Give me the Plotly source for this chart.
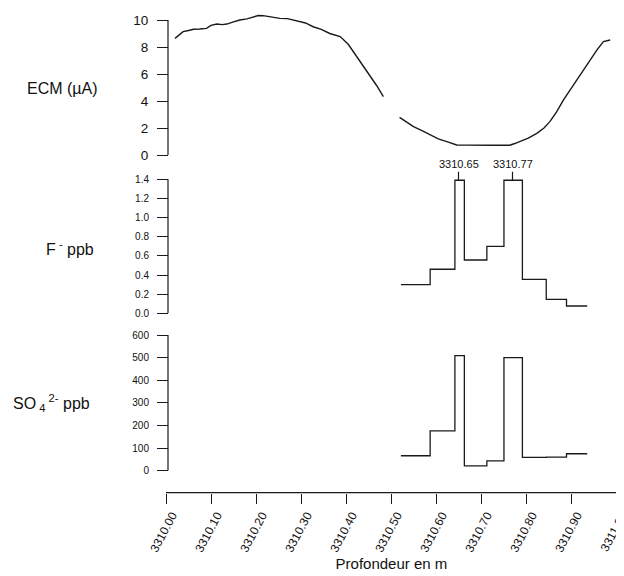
import plotly.graph_objects as go

# ECM profile (depth in m, current in microamps); None marks the gap in the record
ecm_depth = [3310.020, 3310.030, 3310.038, 3310.050, 3310.061, 3310.075, 3310.090,
             3310.100, 3310.113, 3310.125, 3310.135, 3310.150, 3310.164, 3310.180,
             3310.194, 3310.205, 3310.216, 3310.235, 3310.253, 3310.270, 3310.290,
             3310.310, 3310.327, 3310.345, 3310.364, 3310.387, 3310.405,
             3310.424, 3310.440, 3310.453, 3310.468, 3310.483, None,
             3310.519, 3310.535, 3310.550, 3310.570, 3310.587, 3310.605, 3310.624,
             3310.646, 3310.665, 3310.683, 3310.705, 3310.727, 3310.745,
             3310.764, 3310.775, 3310.787, 3310.805, 3310.824, 3310.840, 3310.853,
             3310.868, 3310.883, 3310.898, 3310.913, 3310.928, 3310.942, 3310.957,
             3310.972, 3310.987]
ecm_value = [8.64, 8.95, 9.14, 9.22, 9.31, 9.33, 9.38,
             9.60, 9.70, 9.66, 9.70, 9.86, 10.00, 10.08,
             10.25, 10.33, 10.32, 10.22, 10.12, 10.10, 9.95,
             9.78, 9.50, 9.30, 9.00, 8.77, 8.20,
             7.28, 6.55, 5.93, 5.15, 4.32, None,
             2.79, 2.42, 2.10, 1.78, 1.48, 1.20, 0.99,
             0.74, 0.73, 0.74, 0.73, 0.72, 0.72,
             0.72, 0.85, 0.99, 1.25, 1.60, 2.00, 2.47,
             3.20, 4.07, 4.80, 5.56, 6.30, 7.04, 7.75,
             8.40, 8.52]

# sample boundaries for the chemistry (left edges + final right edge)
sample_edges = [3310.522, 3310.587, 3310.642, 3310.663, 3310.713, 3310.751,
                3310.792, 3310.845, 3310.890, 3310.936]
fluoride = [0.30, 0.46, 1.39, 0.557, 0.70, 1.39, 0.355, 0.146, 0.076]
sulfate = [66, 176, 509, 21, 43, 500, 59, 60, 75]

peak_labels = ["3310.65", "3310.77"]
peak_depths = [3310.65, 3310.77]
peak_values = [1.39, 1.39]

x_ticks = [round(3310.0 + i * 0.1, 2) for i in range(11)]

font = "Liberation Sans, Arial, sans-serif"
line_col = "#1a1a1a"
# the page body has an 8px margin, so the figure is drawn 8px in from the corner
OFF = 8
W, H = 624 - OFF, 576 - OFF


def px_x(p):
    return (p - OFF) / W


def px_y(p):
    return 1 - (p - OFF) / H


axis_x = px_x(168)
# x range padded a hair so the 3311.00 tick is kept
x_pad = 0.002

fig = go.Figure()

fig.add_trace(go.Scatter(x=ecm_depth, y=ecm_value, mode="lines",
                         line=dict(color=line_col, width=1.4),
                         connectgaps=False, xaxis="x", yaxis="y"))
fig.add_trace(go.Scatter(x=sample_edges, y=fluoride + [fluoride[-1]], mode="lines",
                         line=dict(color=line_col, width=1.3, shape="hv"),
                         xaxis="x", yaxis="y2"))
fig.add_trace(go.Scatter(x=sample_edges, y=sulfate + [sulfate[-1]], mode="lines",
                         line=dict(color=line_col, width=1.3, shape="hv"),
                         xaxis="x", yaxis="y3"))

yax = dict(anchor="free", position=axis_x, showgrid=False, zeroline=False,
           showline=False, ticks="outside", ticklen=11, tickwidth=1.2,
           tickcolor=line_col, ticklabelstandoff=6, automargin=False)

fig.update_layout(
    width=W, height=H,
    margin=dict(l=0, r=0, t=0, b=0),
    paper_bgcolor="white", plot_bgcolor="white",
    showlegend=False,
    font=dict(family=font, color="#111"),
    xaxis=dict(domain=[px_x(166), px_x(616 + 450 * x_pad)],
               range=[3310.0, 3311.0 + x_pad],
               anchor="free", position=px_y(492.7), automargin=False,
               tickvals=x_ticks, tickformat=".2f", tickangle=-62,
               ticks="outside", ticklen=10, tickwidth=1.2, tickcolor=line_col,
               showline=False, showgrid=False, zeroline=False,
               tickfont=dict(size=12), ticklabelshift=6, ticklabeloverflow="allow",
               title=dict(text="Profondeur en m", font=dict(size=15), standoff=2)),
    yaxis=dict(yax, domain=[px_y(155), px_y(13.25)], range=[0, 10.5],
               tickvals=[0, 2, 4, 6, 8, 10], tickfont=dict(size=13.5)),
    yaxis2=dict(yax, domain=[px_y(313.3), px_y(174.5)], range=[0, 1.45],
                tickvals=[0, 0.2, 0.4, 0.6, 0.8, 1.0, 1.2, 1.4], tickformat=".1f",
                tickfont=dict(size=10)),
    yaxis3=dict(yax, domain=[px_y(470.7), px_y(335)], range=[0, 600],
                tickvals=[0, 100, 200, 300, 400, 500, 600], tickfont=dict(size=10)),
)

# axis lines only spanning the tick range
for yref, top in [("y", 10), ("y2", 1.4), ("y3", 600)]:
    fig.add_shape(type="line", xref="paper", yref=yref, x0=axis_x, x1=axis_x,
                  y0=0, y1=top, line=dict(color=line_col, width=1.2))
fig.add_shape(type="line", xref="x", yref="paper", x0=x_ticks[0], x1=x_ticks[-1],
              y0=px_y(492.7), y1=px_y(492.7), line=dict(color=line_col, width=1.2))

# panel labels
for text, px, py in [("ECM (µA)", 62, 89), ("F<sup> -</sup> ppb", 70, 248),
                     ("SO<sub> 4</sub><sup> 2-</sup> ppb", 51, 403)]:
    fig.add_annotation(text=text, x=px_x(px), y=px_y(py), xref="paper", yref="paper",
                       xanchor="center", yanchor="middle",
                       showarrow=False, font=dict(size=16))

# peak depth labels
for lab, d, v in zip(peak_labels, peak_depths, peak_values):
    fig.add_annotation(text=lab, x=d, y=v, xref="x", yref="y2",
                       showarrow=True, arrowhead=0, arrowwidth=1.2, arrowcolor=line_col,
                       ax=0, ay=-16, standoff=0, font=dict(size=11))

fig.write_html("out.html")
